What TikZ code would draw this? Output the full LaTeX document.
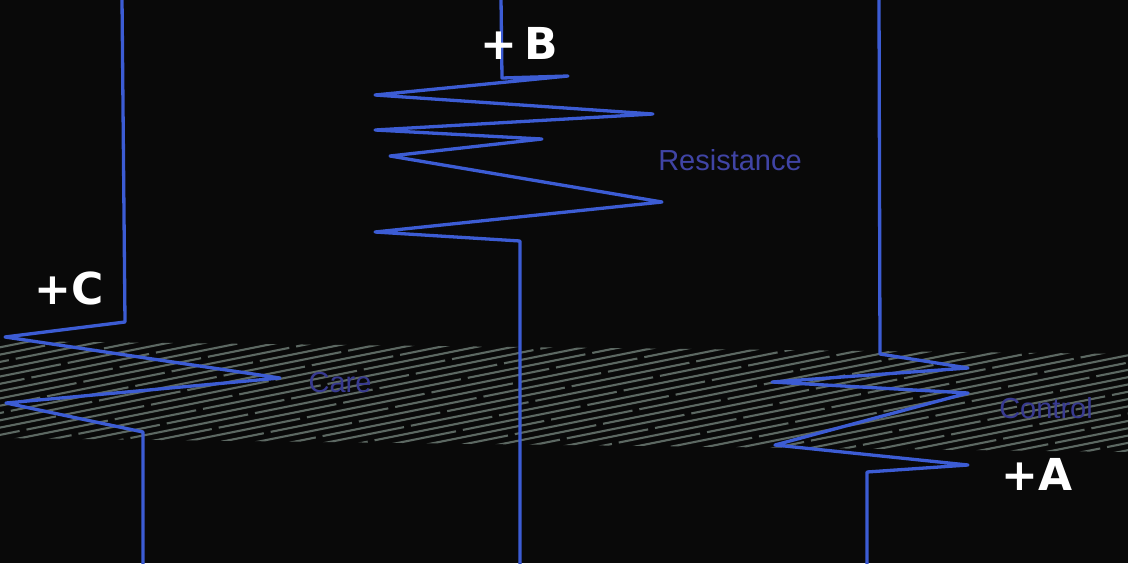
\documentclass[tikz,border=0pt]{standalone}
\usepackage{fontspec}
\setmainfont{Liberation Sans}
\newfontfamily\bigfont{DejaVu Sans}
\definecolor{bgc}{RGB}{9,9,9}
\definecolor{wire}{RGB}{60,92,212}
\definecolor{hatchc}{RGB}{92,104,98}
\definecolor{lab}{RGB}{64,68,165}
\definecolor{labdim}{RGB}{56,58,145}
\tikzset{
  wirepath/.style={draw=wire, line width=3.3pt, line join=round, line cap=butt},
  hatchline/.style={draw=hatchc, line width=2.1pt, dash pattern=on 120pt off 7pt},
  biglabel/.style={text=white, font=\bigfont\bfseries\fontsize{44}{44}\selectfont, inner sep=0pt},
  smalllabel/.style={text=lab, font=\fontsize{29}{29}\selectfont, inner sep=0pt},
}
\begin{document}
\begin{tikzpicture}[x=1pt,y=-1pt]
\fill[bgc] (0,0) rectangle (1128,563);
\useasboundingbox (0,0) rectangle (1128,563);
% hatched band
\begin{scope}
\clip (0,341) -- (1128,354) -- (1128,452) -- (0,438) -- cycle;
\foreach \i in {0,...,48} {
  \pgfmathsetmacro{\ph}{mod(37*\i,127)}
  \draw[hatchline, dash phase=\ph pt] (0,{340+7.3*\i}) -- (1128,{340+7.3*\i-225.6});
}
\end{scope}
% line C
\coordinate (c0) at (122,-2);
\coordinate (c1) at (125,322);
\coordinate (c2) at (5,337);
\coordinate (c3) at (280,378);
\coordinate (c4) at (6,403);
\coordinate (c5) at (143,432);
\coordinate (c6) at (143,565);
\draw[wirepath] (c0) -- (c1) -- (c2) -- (c3) -- (c4) -- (c5) -- (c6);
% line B
\coordinate (b0) at (501,-2);
\coordinate (b1) at (502,78);
\coordinate (b2) at (568,76);
\coordinate (b3) at (375,95);
\coordinate (b4) at (653,114);
\coordinate (b5) at (375,130);
\coordinate (b6) at (542,139);
\coordinate (b7) at (390,156);
\coordinate (b8) at (662,202);
\coordinate (b9) at (375,232);
\coordinate (b10) at (520,241);
\coordinate (b11) at (520,565);
\draw[wirepath] (b0) -- (b1) -- (b2) -- (b3) -- (b4) -- (b5) -- (b6) -- (b7) -- (b8) -- (b9) -- (b10) -- (b11);
% line A
\coordinate (a0) at (879,-2);
\coordinate (a1) at (880,354);
\coordinate (a2) at (968,368);
\coordinate (a3) at (772,382);
\coordinate (a4) at (968,393);
\coordinate (a5) at (775,445);
\coordinate (a6) at (968,465);
\coordinate (a7) at (867,472);
\coordinate (a8) at (867,565);
\draw[wirepath] (a0) -- (a1) -- (a2) -- (a3) -- (a4) -- (a5) -- (a6) -- (a7) -- (a8);
% labels
\node[biglabel] (lc) at (69,288) {+C};
\node[biglabel] (lb) at (519,43) {+\kern7pt B};
\node[biglabel] (la) at (1037,474) {+A};
\node[smalllabel] (lr) at (730,160) {Resistance};
\node[smalllabel, text=labdim] (lcare) at (340,383) {Care};
\node[smalllabel, text=labdim] (lctrl) at (1046,408) {Control};
\end{tikzpicture}
\end{document}
